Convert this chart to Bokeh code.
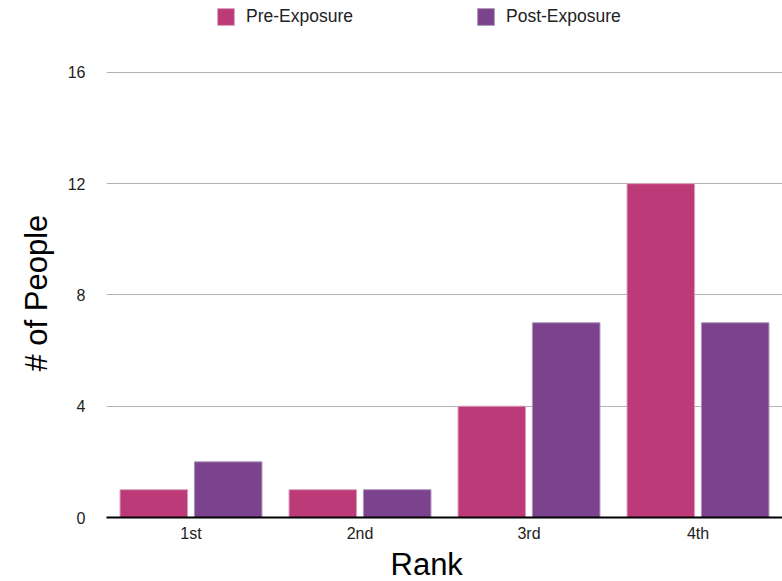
from bokeh.plotting import figure
from bokeh.models import ColumnDataSource, FactorRange, Legend, LegendItem, FixedTicker, Range1d, Title
from bokeh.transform import dodge
from bokeh.embed import file_html
from bokeh.resources import INLINE

# Survey results: number of people giving each rank, before and after exposure
ranks = ["1st", "2nd", "3rd", "4th"]
pre_exposure = [1, 1, 4, 12]
post_exposure = [2, 1, 7, 7]
y_ticks = [0, 4, 8, 12, 16]

PRE_COLOR = "#bb3a77"
POST_COLOR = "#7b438d"
FONT = "Liberation Sans"

# frame spans the full height above the x axis; the band above 16 holds the legend
FRAME_BOTTOM = 518
TICK_TOP = 72
y_max = 16 * FRAME_BOTTOM / (FRAME_BOTTOM - TICK_TOP)

source = ColumnDataSource(data=dict(rank=ranks, pre=pre_exposure, post=post_exposure))

p = figure(
    x_range=FactorRange(*ranks, range_padding=0),
    y_range=Range1d(0, y_max),
    width=782, height=581,
    output_backend="svg", toolbar_location=None,
    min_border_left=106, min_border_right=0,
    min_border_top=0, min_border_bottom=581 - FRAME_BOTTOM,
)
p.outline_line_color = None
p.background_fill_color = "white"
p.border_fill_color = "white"

pre_r = p.vbar(x=dodge("rank", -0.22, range=p.x_range), top="pre", width=0.4,
               source=source, fill_color=PRE_COLOR, line_color="#d7a3bf", line_width=1)
post_r = p.vbar(x=dodge("rank", 0.22, range=p.x_range), top="post", width=0.4,
                source=source, fill_color=POST_COLOR, line_color="#ad98b8", line_width=1)

# grid
p.xgrid.grid_line_color = None
p.ygrid.grid_line_color = "#b4b4b4"
p.ygrid.grid_line_width = 1

# y axis
p.yaxis.ticker = FixedTicker(ticks=y_ticks)
p.yaxis.axis_line_color = None
p.yaxis.major_tick_line_color = None
p.yaxis.minor_tick_line_color = None
p.yaxis.major_tick_out = 0
p.yaxis.major_label_standoff = 21
p.yaxis.major_label_text_font = FONT
p.yaxis.major_label_text_font_size = "16px"
p.yaxis.major_label_text_color = "#222222"

# x axis
p.xaxis.axis_line_color = "black"
p.xaxis.axis_line_width = 2
p.xaxis.major_tick_line_color = None
p.xaxis.minor_tick_line_color = None
p.xaxis.major_tick_out = 0
p.xaxis.major_label_standoff = 7
p.xaxis.major_label_text_font = FONT
p.xaxis.major_label_text_font_size = "16px"
p.xaxis.major_label_text_color = "#222222"

# axis titles, placed as side titles so they can be offset along the frame
y_title = Title(text="# of People", align="left", offset=146, standoff=22,
                text_font=FONT, text_font_size="31px", text_font_style="normal",
                text_color="black")
p.add_layout(y_title, "left")

x_title = Title(text="Rank", align="left", offset=284, standoff=0,
                text_font=FONT, text_font_size="31px", text_font_style="normal",
                text_color="black")
p.add_layout(x_title, "below")


def make_legend(label, renderer, loc):
    leg = Legend(items=[LegendItem(label=label, renderers=[renderer])], location=loc)
    leg.border_line_color = None
    leg.background_fill_alpha = 0
    leg.padding = 0
    leg.margin = 0
    leg.glyph_width = 21
    leg.glyph_height = 21
    leg.label_height = 21
    leg.label_standoff = 10
    leg.label_text_font = FONT
    leg.label_text_font_size = "17.5px"
    leg.label_text_color = "#222222"
    return leg


p.add_layout(make_legend("Pre-Exposure", pre_r, (109, 490)), "center")
p.add_layout(make_legend("Post-Exposure", post_r, (369, 490)), "center")

open("out.html", "w").write(file_html(p, INLINE))
